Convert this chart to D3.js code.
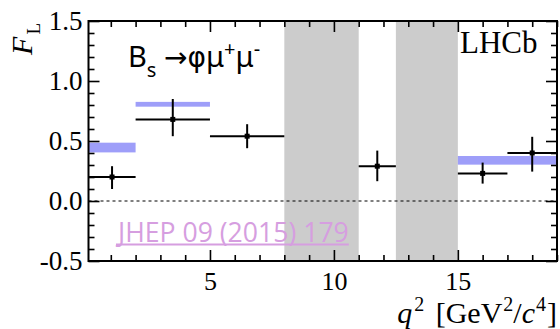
<!DOCTYPE html>
<html>
<head>
<meta charset="utf-8">
<script src="https://cdn.jsdelivr.net/npm/d3@7"></script>
<style>
  html, body { margin: 0; padding: 0; background: #fff; }
  svg { display: block; }
</style>
</head>
<body>
<svg id="chart" width="560" height="329"></svg>
<script>
// q^2 bins of the measurement [GeV^2/c^4]
const binLo = [0.1, 2, 5, 11, 15, 17];
const binHi = [2, 5, 8, 12.5, 17, 19];
const binCenter = [1.05, 3.5, 6.5, 11.75, 16.0, 18.0];
// Longitudinal polarisation fraction F_L with asymmetric uncertainties
const flValue = [0.20, 0.68, 0.54, 0.29, 0.23, 0.40];
const flErrUp = [0.09, 0.17, 0.10, 0.13, 0.09, 0.135];
const flErrDown = [0.10, 0.14, 0.10, 0.125, 0.085, 0.155];
// Standard Model prediction bands
const smLo = [0.1, 2, 15];
const smHi = [2, 5, 19];
const smMin = [0.405, 0.786, 0.303];
const smMax = [0.486, 0.826, 0.375];
// Vetoed charmonium regions
const vetoLo = [8, 12.5];
const vetoHi = [11, 15];
// Axis ticks and labels
const xMajorTicks = [5, 10, 15];
const xMajorLabels = ["5", "10", "15"];
const yMajorTicks = [-0.5, 0, 0.5, 1.0, 1.5];
const yMajorLabels = ["-0.5", "0.0", "0.5", "1.0", "1.5"];

const plotL = 88.5, plotR = 557, plotT = 21, plotB = 261;
const svg = d3.select("#chart");

const x = d3.scaleLinear().domain([0.1, 19]).range([plotL, plotR]);
const y = d3.scaleLinear().domain([-0.5, 1.5]).range([plotB, plotT]);

// Vetoed regions
svg.append("g").selectAll("rect")
  .data(vetoLo.map((lo, i) => ({lo, hi: vetoHi[i]})))
  .join("rect")
  .attr("x", d => x(d.lo))
  .attr("width", d => x(d.hi) - x(d.lo))
  .attr("y", plotT)
  .attr("height", plotB - plotT)
  .attr("fill", "#cccccc");

// SM bands
svg.append("g").selectAll("rect")
  .data(smLo.map((lo, i) => ({lo, hi: smHi[i], mn: smMin[i], mx: smMax[i]})))
  .join("rect")
  .attr("x", d => x(d.lo))
  .attr("width", d => x(d.hi) - x(d.lo))
  .attr("y", d => y(d.mx))
  .attr("height", d => y(d.mn) - y(d.mx))
  .attr("fill", "#9e9ef9");

// Zero line
svg.append("line")
  .attr("x1", plotL).attr("x2", plotR)
  .attr("y1", y(0)).attr("y2", y(0))
  .attr("stroke", "#000").attr("stroke-width", 1.2)
  .attr("stroke-dasharray", "3,3");

// Reference text
const jhep = svg.append("text")
  .attr("x", 118).attr("y", 241.5)
  .attr("font-family", "Open Sans")
  .attr("font-size", 26.6)
  .attr("fill", "#d69ee0")
  .text("JHEP 09 (2015) 179");
const jl = jhep.node().getComputedTextLength();
svg.append("line")
  .attr("x1", 116).attr("x2", 118 + jl)
  .attr("y1", 244.5).attr("y2", 244.5)
  .attr("stroke", "#d69ee0").attr("stroke-width", 2);

// Data points with error bars
const pts = binCenter.map((c, i) => ({
  c, lo: binLo[i], hi: binHi[i], v: flValue[i], up: flErrUp[i], dn: flErrDown[i]
}));
const pg = svg.append("g").attr("stroke", "#000").attr("stroke-width", 2);
pg.selectAll("line.h").data(pts).join("line").attr("class", "h")
  .attr("x1", d => x(d.lo)).attr("x2", d => x(d.hi))
  .attr("y1", d => y(d.v)).attr("y2", d => y(d.v));
pg.selectAll("line.v").data(pts).join("line").attr("class", "v")
  .attr("x1", d => x(d.c)).attr("x2", d => x(d.c))
  .attr("y1", d => y(d.v + d.up)).attr("y2", d => y(d.v - d.dn));
svg.append("g").selectAll("rect").data(pts).join("rect")
  .attr("x", d => x(d.c) - 2.5).attr("y", d => y(d.v) - 2.5)
  .attr("width", 5).attr("height", 5).attr("fill", "#000");

// Axes: inward ticks on all four sides
const serif = "Liberation Serif";
function styleAxis(g) {
  g.select(".domain").remove();
  g.selectAll(".tick line").attr("stroke", "#000").attr("stroke-width", 1.6);
}
const xMinor = d3.range(1, 20).filter(v => v % 5 !== 0);
const yMinor = d3.range(-5, 16).map(v => v / 10).filter(v => Math.round(Math.abs(v * 10)) % 5 !== 0);

svg.append("g").attr("transform", `translate(0,${plotB})`)
  .call(d3.axisBottom(x).tickValues(xMajorTicks).tickFormat((d, i) => xMajorLabels[i]).tickSize(-11).tickPadding(0))
  .call(styleAxis)
  .call(g => g.selectAll("text").attr("y", 29).attr("dy", 0)
    .attr("font-family", serif).attr("font-size", 26).attr("fill", "#000"));
svg.append("g").attr("transform", `translate(0,${plotB})`)
  .call(d3.axisBottom(x).tickValues(xMinor).tickFormat("").tickSize(-6))
  .call(styleAxis);
svg.append("g").attr("transform", `translate(0,${plotT})`)
  .call(d3.axisTop(x).tickValues(xMajorTicks).tickFormat("").tickSize(-11))
  .call(styleAxis);
svg.append("g").attr("transform", `translate(0,${plotT})`)
  .call(d3.axisTop(x).tickValues(xMinor).tickFormat("").tickSize(-6))
  .call(styleAxis);

svg.append("g").attr("transform", `translate(${plotL},0)`)
  .call(d3.axisLeft(y).tickValues(yMajorTicks).tickFormat((d, i) => yMajorLabels[i]).tickSize(-11).tickPadding(6))
  .call(styleAxis)
  .call(g => g.selectAll("text").attr("dy", "0.33em")
    .attr("font-family", serif).attr("font-size", 27).attr("fill", "#000"));
svg.append("g").attr("transform", `translate(${plotL},0)`)
  .call(d3.axisLeft(y).tickValues(yMinor).tickFormat("").tickSize(-6))
  .call(styleAxis);
svg.append("g").attr("transform", `translate(${plotR},0)`)
  .call(d3.axisRight(y).tickValues(yMajorTicks).tickFormat("").tickSize(-11))
  .call(styleAxis);
svg.append("g").attr("transform", `translate(${plotR},0)`)
  .call(d3.axisRight(y).tickValues(yMinor).tickFormat("").tickSize(-6))
  .call(styleAxis);

// Frame
svg.append("rect")
  .attr("x", plotL).attr("y", plotT)
  .attr("width", plotR - plotL).attr("height", plotB - plotT)
  .attr("fill", "none").attr("stroke", "#000").attr("stroke-width", 2);

// Axis titles
const yt = svg.append("text")
  .attr("transform", `translate(32,23) rotate(-90)`)
  .attr("text-anchor", "end")
  .attr("font-family", serif).attr("font-size", 30);
yt.append("tspan").attr("font-style", "italic").text("F");
yt.append("tspan").attr("font-size", 19).attr("dx", 2).attr("dy", 8).text("L");

const xt = svg.append("text")
  .attr("x", 557).attr("y", 323)
  .attr("text-anchor", "end")
  .attr("font-family", serif).attr("font-size", 30);
xt.append("tspan").attr("font-style", "italic").text("q");
xt.append("tspan").attr("font-size", 20).attr("dx", 2).attr("dy", -12).text("2");
xt.append("tspan").attr("dx", 4).attr("dy", 12).text(" [GeV");
xt.append("tspan").attr("font-size", 20).attr("dx", 1).attr("dy", -12).text("2");
xt.append("tspan").attr("dy", 12).text("/");
xt.append("tspan").attr("font-style", "italic").text("c");
xt.append("tspan").attr("font-size", 20).attr("dx", 1).attr("dy", -12).text("4");
xt.append("tspan").attr("dx", 1).attr("dy", 12).text("]");

// Labels inside the plot
svg.append("text")
  .attr("x", 460).attr("y", 53)
  .attr("font-family", serif).attr("font-size", 31)
  .text("LHCb");

const ttl = svg.append("text")
  .attr("x", 128).attr("y", 66.5)
  .attr("font-family", "Noto Sans").attr("font-size", 29);
ttl.append("tspan").text("B");
ttl.append("tspan").attr("font-size", 20).attr("dy", 10).text("s");
ttl.append("tspan").attr("dy", -10).text(" ");
ttl.append("tspan").attr("font-family", "DejaVu Sans").attr("font-size", 28).text("\u2192\u03C6");
ttl.append("tspan").text("\u03BC");
ttl.append("tspan").attr("font-size", 20).attr("dy", -11).text("+");
ttl.append("tspan").attr("dy", 11).text("\u03BC");
ttl.append("tspan").attr("font-size", 20).attr("dy", -11).text("-");
</script>
</body>
</html>
